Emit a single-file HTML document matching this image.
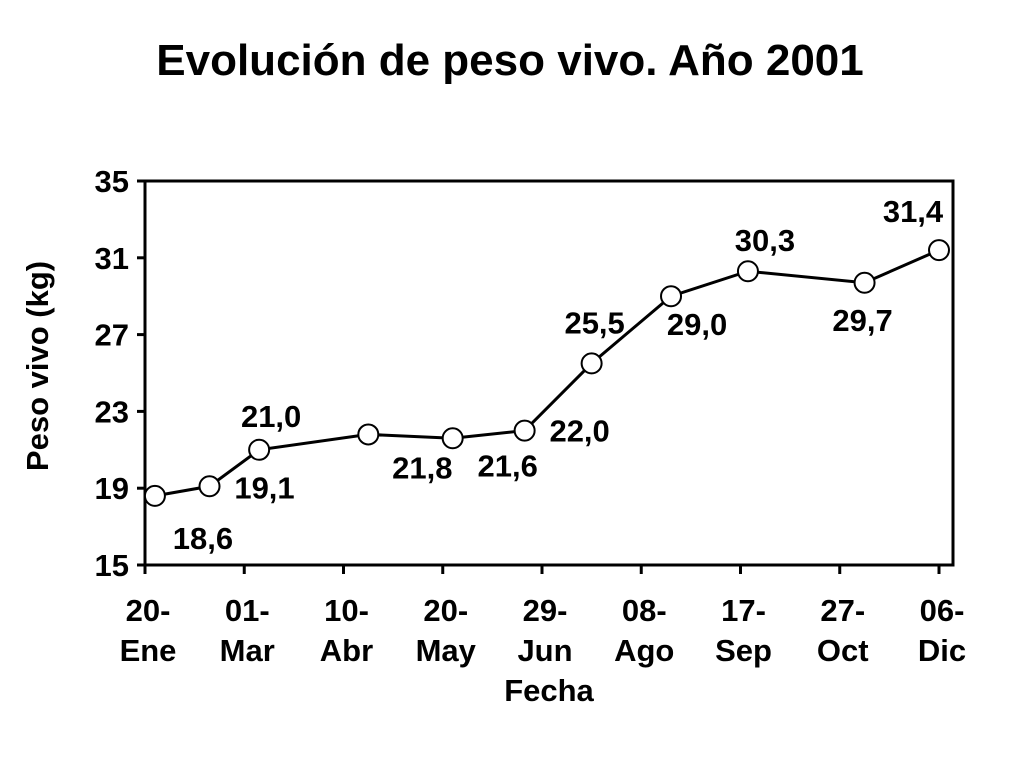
<!DOCTYPE html>
<html><head><meta charset="utf-8">
<style>
body{margin:0;background:#fff;}
svg text{font-family:"Liberation Sans",Arial,sans-serif;font-weight:bold;fill:#000;}
</style></head>
<body>
<svg width="1024" height="768" viewBox="0 0 1024 768">
<text x="510" y="75" text-anchor="middle" font-size="44">Evolución de peso vivo. Año 2001</text>
<g id="plot"></g>
</svg>
<script>
const dayOfYear=[24,46,66,110,144,173,200,232,263,310,340];
const weights=[18.6,19.1,21.0,21.8,21.6,22.0,25.5,29.0,30.3,29.7,31.4];
const valueLabels=["18,6","19,1","21,0","21,8","21,6","22,0","25,5","29,0","30,3","29,7","31,4"];
const yTicks=[15,19,23,27,31,35];
const xTickDays=[20,60,100,140,180,220,260,300,340];
const xTickTop=["20-","01-","10-","20-","29-","08-","17-","27-","06-"];
const xTickBottom=["Ene","Mar","Abr","May","Jun","Ago","Sep","Oct","Dic"];
// label offsets (layout only)
const lblDx=[48,55,12,54,55,55,3,26,17,-2,-26];
const lblDy=[53,12,-23,44,38,11,-30,39,-20,48,-28];

const L=145,R=953,T=181,B=565;
const x=d=>L+(d-20)*(939-145)/320;
const y=v=>B-(v-15)*(B-T)/20;
const ns="http://www.w3.org/2000/svg";
const g=document.getElementById('plot');
function mk(t,a){const e=document.createElementNS(ns,t);for(const k in a)e.setAttribute(k,a[k]);g.appendChild(e);return e;}

let r=mk('rect',{x:L,y:T,width:R-L,height:B-T,fill:'none',stroke:'#000','stroke-width':3});



yTicks.forEach(v=>{
 let l=mk('line',{x1:L-8,x2:L,y1:y(v),y2:y(v),stroke:'#000','stroke-width':3});
 
 
 let t=mk('text',{x:L-16,y:y(v)+11,'text-anchor':'end','font-size':31});
 t.textContent=v;
 
 
});
xTickDays.forEach((d,i)=>{
 let l=mk('line',{x1:x(d),x2:x(d),y1:B,y2:B+9,stroke:'#000','stroke-width':3});
 
 
 let t=mk('text',{x:x(d)+3,y:621,'text-anchor':'middle','font-size':31});
 t.textContent=xTickTop[i];
 
 
 let t2=mk('text',{x:x(d)+3,y:661,'text-anchor':'middle','font-size':31});
 t2.textContent=xTickBottom[i];
 
 
});
let xt=mk('text',{x:549,y:701,'text-anchor':'middle','font-size':31});
xt.textContent='Fecha';


let yt=mk('text',{x:0,y:0,'text-anchor':'middle','font-size':31,transform:'translate(48,366) rotate(-90)'});
yt.textContent='Peso vivo (kg)';



let pl=mk('polyline',{points:dayOfYear.map((d,i)=>x(d)+','+y(weights[i])).join(' '),fill:'none',stroke:'#000','stroke-width':3});


dayOfYear.forEach((d,i)=>{
 let c=mk('circle',{cx:x(d),cy:y(weights[i]),r:10,fill:'#fff',stroke:'#000','stroke-width':2});
 
 
 let t=mk('text',{x:x(d)+lblDx[i],y:y(weights[i])+lblDy[i],'text-anchor':'middle','font-size':31});
 t.textContent=valueLabels[i];
 
 
});
</script>
</body></html>
